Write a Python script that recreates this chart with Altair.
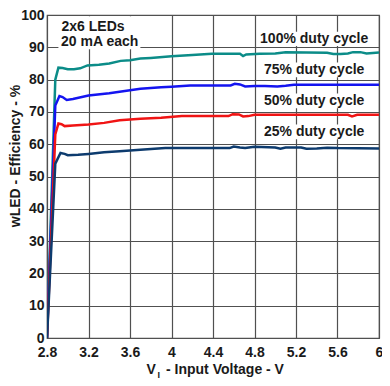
import altair as alt
import pandas as pd

# ---- data ----
series_names = ["100% duty cycle", "75% duty cycle", "50% duty cycle", "25% duty cycle"]
series_colors = ["#0b8c88", "#1414f0", "#f01414", "#0d3b6e"]

v100 = [2.80, 2.88, 2.91, 2.95, 3.00, 3.06, 3.12, 3.19, 3.30, 3.40, 3.51, 3.60, 3.70, 3.80,
        4.00, 4.20, 4.39, 4.55, 4.66, 4.69, 4.72, 4.85, 5.00, 5.10, 5.30, 5.50, 5.56, 5.63,
        5.70, 5.75, 5.82, 5.88, 6.00]
e100 = [0, 80, 83.7, 83.6, 83.2, 83.2, 83.5, 84.4, 84.6, 85.0, 85.8, 86.0, 86.5, 86.7,
        87.2, 87.6, 88.0, 88.0, 88.0, 87.3, 87.8, 88.0, 88.1, 88.5, 88.4, 88.3, 87.9, 87.9,
        88.1, 88.5, 88.5, 88.1, 88.4]

v75 = [2.80, 2.88, 2.92, 2.95, 2.99, 3.05, 3.20, 3.40, 3.55, 3.70, 3.90, 4.00, 4.18, 4.57,
       4.61, 4.66, 4.71, 4.80, 4.90, 5.02, 5.10, 5.18, 6.00]
e75 = [0, 72, 74.9, 74.6, 73.7, 74.0, 75.1, 75.8, 76.5, 77.2, 77.6, 77.8, 78.2, 78.2,
       78.7, 78.5, 77.9, 78.0, 78.0, 77.9, 78.1, 78.4, 78.4]

v50 = [2.80, 2.88, 2.91, 2.94, 2.97, 3.05, 3.20, 3.35, 3.50, 3.70, 3.90, 4.10, 4.55, 4.59,
       4.65, 4.69, 4.74, 4.80, 5.70, 5.74, 5.79, 6.00]
e50 = [0, 63, 66.4, 66.2, 65.6, 65.8, 66.1, 66.6, 67.4, 67.9, 68.2, 68.7, 68.7, 69.3,
       69.2, 68.6, 68.7, 69.1, 69.1, 68.6, 69.1, 69.1]

v25 = [2.80, 2.88, 2.93, 2.97, 3.00, 3.10, 3.20, 3.35, 3.50, 3.70, 3.94, 4.56, 4.60, 4.66,
       4.71, 4.80, 5.00, 5.05, 5.10, 5.25, 5.30, 5.40, 5.50, 5.60, 6.00]
e25 = [0, 54, 57.3, 57.0, 56.6, 56.7, 57.0, 57.5, 57.8, 58.3, 58.8, 58.8, 59.3, 59.0,
       58.8, 59.2, 59.0, 58.6, 59.0, 59.0, 58.6, 58.7, 58.9, 58.8, 58.7]

x_ticks = [2.8, 3.2, 3.6, 4.0, 4.4, 4.8, 5.2, 5.6, 6.0]
y_ticks = [0, 10, 20, 30, 40, 50, 60, 70, 80, 90, 100]

# annotation labels (data coordinates)
label_texts = ["100% duty cycle", "75% duty cycle", "50% duty cycle", "25% duty cycle"]
label_x = [5.375, 5.375, 5.375, 5.375]
label_y = [92.5, 83.0, 73.4, 63.8]
box_x1 = [4.85, 4.85, 4.85, 4.85]
box_x2 = [5.92, 5.92, 5.92, 5.92]
box_y1 = [90.4, 80.7, 71.1, 61.5]
box_y2 = [94.8, 85.3, 75.7, 66.1]

note_texts = ["2x6 LEDs", "20 mA each"]
note_x = [2.94, 2.935]
note_y = [96.3, 91.6]
note_box = {"x1": [2.91], "x2": [3.70], "y1": [89.4], "y2": [99.6]}

# ---- build tables ----
rows = []
for name, vs, es in zip(series_names, [v100, v75, v50, v25], [e100, e75, e50, e25]):
    for v, e in zip(vs, es):
        rows.append({"series": name, "V": v, "eff": e})
df = pd.DataFrame(rows)

labels_df = pd.DataFrame({"text": label_texts, "x": label_x, "y": label_y,
                          "x1": box_x1, "x2": box_x2, "y1": box_y1, "y2": box_y2})
notes_df = pd.DataFrame({"text": note_texts, "x": note_x, "y": note_y})
note_box_df = pd.DataFrame(note_box)

FONT = "Liberation Sans, Arial, sans-serif"
TXT = "#1a1a1a"

x_scale = alt.Scale(domain=[2.8, 6], nice=False, zero=False)
y_scale = alt.Scale(domain=[0, 100], nice=False)

x_axis = alt.Axis(values=x_ticks, title=None, labelExpr="format(datum.value, '.1~f')",
                  labelFlush=False, labelPadding=7)
y_axis = alt.Axis(values=y_ticks, title=None, labelFlush=False, labelPadding=3)

lines = alt.Chart(df).mark_line(strokeWidth=2.5, clip=True).encode(
    x=alt.X("V:Q", scale=x_scale, axis=x_axis),
    y=alt.Y("eff:Q", scale=y_scale, axis=y_axis),
    color=alt.Color("series:N", scale=alt.Scale(domain=series_names, range=series_colors),
                    legend=None),
)

boxes = alt.Chart(labels_df).mark_rect(color="white").encode(
    x=alt.X("x1:Q", scale=x_scale, axis=x_axis), x2="x2:Q",
    y=alt.Y("y1:Q", scale=y_scale, axis=y_axis), y2="y2:Q",
)
label_text = alt.Chart(labels_df).mark_text(
    font=FONT, fontSize=14, fontWeight="bold", color=TXT, align="center", baseline="middle"
).encode(
    x=alt.X("x:Q", scale=x_scale, axis=x_axis),
    y=alt.Y("y:Q", scale=y_scale, axis=y_axis),
    text="text:N",
)

note_rect = alt.Chart(note_box_df).mark_rect(color="white").encode(
    x=alt.X("x1:Q", scale=x_scale, axis=x_axis), x2="x2:Q",
    y=alt.Y("y1:Q", scale=y_scale, axis=y_axis), y2="y2:Q",
)
note_text = alt.Chart(notes_df).mark_text(
    font=FONT, fontSize=14, fontWeight="bold", color=TXT, align="left", baseline="middle"
).encode(
    x=alt.X("x:Q", scale=x_scale, axis=x_axis),
    y=alt.Y("y:Q", scale=y_scale, axis=y_axis),
    text="text:N",
)

# axis titles (V with subscript I)
title_df = pd.DataFrame({"t": ["wLED - Efficiency - %"]})
ytitle = alt.Chart(title_df).mark_text(
    font=FONT, fontSize=14, fontWeight="bold", color=TXT, angle=270,
    align="center", baseline="middle"
).encode(x=alt.value(-31), y=alt.value(141), text="t:N")

xt1 = alt.Chart(pd.DataFrame({"t": ["V"]})).mark_text(
    font=FONT, fontSize=14, fontWeight="bold", color=TXT, align="left", baseline="middle"
).encode(x=alt.value(99.5), y=alt.value(355), text="t:N")
xt2 = alt.Chart(pd.DataFrame({"t": ["I"]})).mark_text(
    font=FONT, fontSize=9, fontWeight="bold", color=TXT, align="left", baseline="middle"
).encode(x=alt.value(110.5), y=alt.value(360), text="t:N")
xt3 = alt.Chart(pd.DataFrame({"t": ["- Input Voltage - V"]})).mark_text(
    font=FONT, fontSize=14, fontWeight="bold", color=TXT, align="left", baseline="middle"
).encode(x=alt.value(119), y=alt.value(355), text="t:N")

chart = alt.layer(
    lines, boxes, label_text, note_rect, note_text, ytitle, xt1, xt2, xt3
).properties(
    width=332, height=323,
    autosize=alt.AutoSizeParams(type="none"),
    padding={"left": 39, "top": 7, "right": 3, "bottom": 47},
    background="white",
).configure_view(
    stroke="#505050", strokeWidth=1.2
).configure_axis(
    grid=True, ticks=False, domain=False,
    labelFontSize=14, labelFontWeight="bold", labelFont=FONT, labelColor=TXT,
    gridColor="#505050", gridWidth=1.2, gridOpacity=1,
)

chart.save("out.html", embed_options={"renderer": "svg", "actions": False})
